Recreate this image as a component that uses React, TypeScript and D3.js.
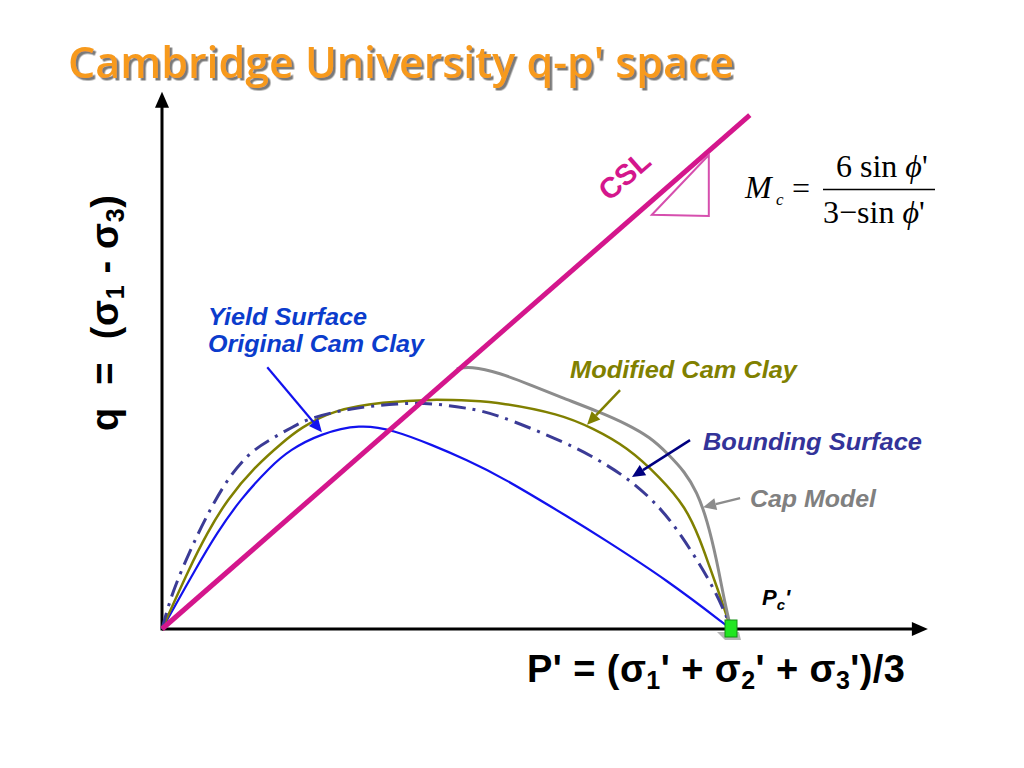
import * as d3 from 'd3';

// p' is scaled so that Pc' = 100; q uses the same units
const cslP = [0, 103.3];
const cslQ = [0, 90.3];

// Original Cam Clay yield surface
const occP = [0, 6.1, 9.6, 13.7, 19.0, 22.5, 27.8, 34.8, 40.6, 47.6, 53.6, 59.4, 72.2, 77.0, 88.8, 100];
const occQ = [0, 10.9, 16.8, 22.7, 28.5, 31.5, 34.3, 36.0, 35.0, 32.3, 29.7, 26.9, 19.2, 16.2, 8.6, 0];

// Modified Cam Clay
const mccP = [0, 4.9, 7.9, 11.4, 16.3, 21.3, 24.3, 30.1, 38.8, 47.6, 54.7, 59.4, 69.9, 75.7, 81.7, 87.5, 92.1, 94.6, 96.1, 97.7, 98.9, 100];
const mccQ = [0, 10.9, 16.8, 22.7, 28.5, 32.9, 35.3, 38.5, 39.9, 40.4, 40.1, 39.8, 37.8, 35.3, 32.0, 26.7, 21.4, 15.6, 11.3, 6.9, 3.3, 0];

// Bounding surface (dash-dot)
const bsP = [0, 1.7, 5.5, 8.4, 11.4, 15.2, 19.0, 23.1, 26.0, 33.0, 41.8, 47.6, 53.6, 58.2, 71.2, 77.5, 82.8, 87.5, 91.0, 96.3, 99.3, 100];
const bsQ = [0, 6.3, 15.1, 20.9, 26.2, 30.9, 33.3, 35.6, 37.1, 38.8, 39.7, 39.7, 38.8, 38.0, 32.7, 29.3, 25.8, 21.4, 16.9, 8.6, 2.1, 0];

// Cap model, starting on the CSL
const capP = [51.8, 54.1, 59.4, 64.7, 69.9, 77.0, 81.7, 85.8, 88.9, 91.9, 94.0, 95.8, 97.5, 98.9, 100];
const capQ = [45.7, 46.2, 45.0, 42.9, 40.8, 38.1, 36.0, 33.7, 30.8, 27.6, 24.1, 19.2, 12.1, 4.6, 0];

// slope triangle next to the CSL
const triP = [86.1, 96.1, 96.1];
const triQ = [72.8, 83.3, 72.6];

const SANS = '"Liberation Sans", Arial, sans-serif';
const SERIF = '"Liberation Serif", "Times New Roman", serif';

function Arrow({ x1, y1, x2, y2, color, w = 2.5, head = 13, hw = 6 }: {
  x1: number; y1: number; x2: number; y2: number; color: string; w?: number; head?: number; hw?: number;
}) {
  const a = Math.atan2(y2 - y1, x2 - x1);
  const bx = x2 - head * Math.cos(a);
  const by = y2 - head * Math.sin(a);
  const nx = -Math.sin(a) * hw;
  const ny = Math.cos(a) * hw;
  return (
    <g>
      <line x1={x1} y1={y1} x2={bx} y2={by} stroke={color} strokeWidth={w} />
      <polygon points={`${x2},${y2} ${bx + nx},${by + ny} ${bx - nx},${by - ny}`} fill={color} />
    </g>
  );
}

export default function App() {
  const width = 1024;
  const height = 768;

  const x = d3.scaleLinear([0, 100], [162, 731]);
  const y = d3.scaleLinear([0, 100], [629, 60]);

  const path = (p: number[], q: number[]) =>
    d3.line<number>((_, i) => x(p[i]), (d) => y(d)).curve(d3.curveBasis)(q) ?? '';

  const cslPath = d3.line<number>((_, i) => x(cslP[i]), (d) => y(d))(cslQ) ?? '';
  const triPath = d3.line<number>((_, i) => x(triP[i]), (d) => y(d))(triQ) + 'Z';

  const xEnd = 134.6;
  const yEnd = 94.4;
  const cslAngle = (Math.atan2(y(cslQ[1]) - y(0), x(cslP[1]) - x(0)) * 180) / Math.PI;

  return (
    <svg width={width} height={height} style={{ position: 'fixed', left: 0, top: 0, background: '#fff' }}>
      <defs>
        <filter id='shadow' x='-5%' y='-20%' width='110%' height='140%'>
          <feDropShadow dx={2.5} dy={2.5} stdDeviation={0.4} floodColor='#7a7a7a' floodOpacity={1} />
        </filter>
      </defs>

      {/* title */}
      <text
        x={68}
        y={78}
        fill='#f79a1e'
        fontFamily='"Open Sans", Lato, sans-serif'
        fontWeight={600}
        fontSize={44}
        textLength={666}
        lengthAdjust='spacingAndGlyphs'
        filter='url(#shadow)'
      >
        Cambridge University q-p' space
      </text>

      {/* axes */}
      <line x1={x(0)} y1={y(0)} x2={x(xEnd) - 14} y2={y(0)} stroke='#000' strokeWidth={3} />
      <polygon points={`${x(xEnd)},${y(0)} ${x(xEnd) - 16},${y(0) - 7} ${x(xEnd) - 16},${y(0) + 7}`} fill='#000' />
      <line x1={x(0)} y1={y(0) + 1.5} x2={x(0)} y2={y(yEnd) + 14} stroke='#000' strokeWidth={3} />
      <polygon points={`${x(0)},${y(yEnd)} ${x(0) - 7},${y(yEnd) + 16} ${x(0) + 7},${y(yEnd) + 16}`} fill='#000' />

      {/* curves */}
      <path d={path(occP, occQ)} fill='none' stroke='#1212ee' strokeWidth={2.2} />
      <path d={path(mccP, mccQ)} fill='none' stroke='#808000' strokeWidth={2.5} />
      <path d={path(bsP, bsQ)} fill='none' stroke='#3b3b96' strokeWidth={3} strokeDasharray='17,7,3,7' />
      <path d={path(capP, capQ)} fill='none' stroke='#8c8c8c' strokeWidth={3} />
      <path d={cslPath} fill='none' stroke='#d4168c' strokeWidth={5} />
      <path d={triPath} fill='none' stroke='#d64fae' strokeWidth={2} />

      {/* Pc' marker */}
      <polygon points={`${x(100) - 14},${y(0) + 3} ${x(100) + 8},${y(0) + 3} ${x(100) + 10},${y(0) + 11} ${x(100) - 6},${y(0) + 11}`} fill='#b5b5b5' />
      <rect x={x(100) - 6} y={y(0) - 9} width={12} height={17} fill='#22e622' stroke='#139013' strokeWidth={1} />

      {/* CSL label */}
      <text
        transform={`translate(631,183) rotate(${cslAngle})`}
        textAnchor='middle'
        fontFamily={SANS}
        fontWeight='bold'
        fontSize={29}
        fill='#d4168c'
      >
        CSL
      </text>

      {/* M_c formula */}
      <g fontFamily={SERIF} fontSize={32} fill='#000'>
        <text x={745} y={198} fontStyle='italic'>M</text>
        <text x={776} y={205} fontStyle='italic' fontSize={17}>c</text>
        <text x={792} y={199}>=</text>
        <line x1={823} y1={189.5} x2={935} y2={189.5} stroke='#000' strokeWidth={1.5} />
        <text x={836} y={177} style={{ whiteSpace: 'pre' }}>
          6 sin <tspan fontStyle='italic'>ϕ</tspan>'
        </text>
        <text x={823} y={223} style={{ whiteSpace: 'pre' }}>
          3−sin <tspan fontStyle='italic'>ϕ</tspan>'
        </text>
      </g>

      {/* annotations */}
      <g fontFamily={SANS} fontWeight='bold' fontStyle='italic' fontSize={23}>
        <text x={208} y={325} fill='#0b3ccc' textLength={159} lengthAdjust='spacingAndGlyphs'>Yield Surface</text>
        <text x={208} y={352} fill='#0b3ccc' textLength={216} lengthAdjust='spacingAndGlyphs'>Original Cam Clay</text>
        <text x={570} y={378} fill='#808000' textLength={227} lengthAdjust='spacingAndGlyphs'>Modified Cam Clay</text>
        <text x={703} y={450} fill='#333399' textLength={219} lengthAdjust='spacingAndGlyphs'>Bounding Surface</text>
        <text x={750} y={507} fill='#808080' textLength={126} lengthAdjust='spacingAndGlyphs'>Cap Model</text>
        <text x={762} y={605} fill='#000' fontSize={22}>
          P<tspan dy={5} fontSize={15}>c</tspan><tspan dy={-5}>'</tspan>
        </text>
      </g>
      <Arrow x1={x(18.5)} y1={y(46.0)} x2={x(28.1)} y2={y(34.6)} color='#1212ee' w={2.2} />
      <Arrow x1={x(80.5)} y1={y(42.0)} x2={x(74.7)} y2={y(35.9)} color='#808000' />
      <Arrow x1={x(92.8)} y1={y(33.2)} x2={x(82.6)} y2={y(26.7)} color='#000080' />
      <Arrow x1={x(101.6)} y1={y(23.0)} x2={x(95.1)} y2={y(21.4)} color='#8c8c8c' />

      {/* axis labels */}
      <text
        transform='translate(118,313) rotate(-90)'
        textAnchor='middle'
        fontFamily={SANS}
        fontWeight='bold'
        fontSize={38}
        style={{ whiteSpace: 'pre' }}
        textLength={236}
        lengthAdjust='spacing'
      >
        q  =  (σ<tspan dy={6} fontSize={25}>1</tspan><tspan dy={-6}> - σ</tspan><tspan dy={6} fontSize={25}>3</tspan><tspan dy={-6}>)</tspan>
      </text>
      <text
        x={527}
        y={682}
        fontFamily={SANS}
        fontWeight='bold'
        fontSize={38}
        style={{ whiteSpace: 'pre' }}
        textLength={378}
        lengthAdjust='spacing'
      >
        P' = (σ<tspan dy={7} fontSize={25}>1</tspan><tspan dy={-7}>' + σ</tspan><tspan dy={7} fontSize={25}>2</tspan><tspan dy={-7}>' + σ</tspan><tspan dy={7} fontSize={25}>3</tspan><tspan dy={-7}>')/3</tspan>
      </text>
    </svg>
  );
}
